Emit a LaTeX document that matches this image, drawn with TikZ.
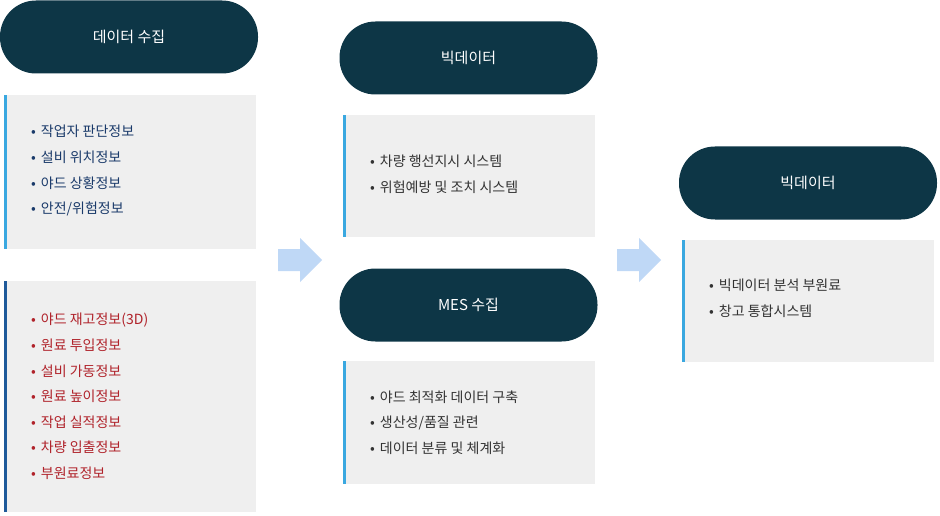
\documentclass[tikz,border=0pt]{standalone}
\usepackage{fontspec}
\setmainfont{Noto Sans CJK KR}
\definecolor{pilldark}{HTML}{0D3646}
\definecolor{panelgray}{HTML}{EFEFEF}
\definecolor{edgelight}{HTML}{3AA8E0}
\definecolor{edgedark}{HTML}{1F5A9A}
\definecolor{textblue}{HTML}{1A3A6A}
\definecolor{textred}{HTML}{B0222A}
\definecolor{textgray}{HTML}{333333}
\definecolor{arrowblue}{HTML}{BFD8F6}
\tikzset{
  pill/.style={fill=pilldark,rounded corners=36pt,minimum width=258pt,minimum height=73pt,
    text=white,font=\fontsize{15}{18}\selectfont,inner sep=0pt},
  panel/.style={fill=panelgray,minimum width=253pt,inner sep=0pt},
  item/.style={anchor=west,font=\fontsize{14}{17}\selectfont,inner sep=0pt},
  fatarrow/.style={fill=arrowblue}
}
\newcommand{\panelbox}[5]{% name, x, ytop, ybot, edge colour
  \fill[panelgray] (#2,#3) rectangle ++(252,#4-#3);
  \fill[#5] (#2,#3) rectangle ++(3,#4-#3);
  \coordinate (#1) at (#2,#3);}
\newcommand{\flowarrow}[2]{%
  \fill[fatarrow] (#1,#2+11) -- ++(22,0) -- ++(0,11) -- ++(22,-22) -- ++(-22,-22) -- ++(0,11) -- ++(-22,0) -- cycle;}
\begin{document}
\begin{tikzpicture}[x=1pt,y=-1pt]
\useasboundingbox (0,0) rectangle (940,516);
% column 1
\node[pill] (collect) at (129,37) {데이터 수집};
\panelbox{sensebox}{4}{95}{249}{edgelight}
\foreach \t [count=\i] in {작업자 판단정보,설비 위치정보,야드 상황정보,안전/위험정보}
  \node[item,text=textblue] (s\i) at (31,105+26*\i) {•\hspace{5pt}\t};
\panelbox{plantbox}{4}{281}{512}{edgedark}
\foreach \t [count=\i] in {야드 재고정보(3D),원료 투입정보,설비 가동정보,원료 높이정보,작업 실적정보,차량 입출정보,부원료정보}
  \node[item,text=textred] (p\i) at (31,294.5+25.5*\i) {•\hspace{5pt}\t};
\flowarrow{278}{260}
% column 2
\node[pill] (bigdata) at (468.5,58) {빅데이터};
\panelbox{bigbox}{343}{115}{237}{edgelight}
\foreach \t [count=\i] in {차량 행선지시 시스템,위험예방 및 조치 시스템}
  \node[item,text=textgray] (b\i) at (370,135+26*\i) {•\hspace{5pt}\t};
\node[pill] (mes) at (468.5,305) {MES 수집};
\panelbox{mesbox}{343}{361}{484}{edgelight}
\foreach \t [count=\i] in {야드 최적화 데이터 구축,생산성/품질 관련,데이터 분류 및 체계화}
  \node[item,text=textgray] (m\i) at (370,371.5+25.5*\i) {•\hspace{5pt}\t};
\flowarrow{617}{260}
% column 3
\node[pill] (bigdata2) at (808,183) {빅데이터};
\panelbox{resultbox}{682}{240}{362}{edgelight}
\foreach \t [count=\i] in {빅데이터 분석 부원료,창고 통합시스템}
  \node[item,text=textgray] (r\i) at (709,259+26*\i) {•\hspace{5pt}\t};
\end{tikzpicture}
\end{document}
